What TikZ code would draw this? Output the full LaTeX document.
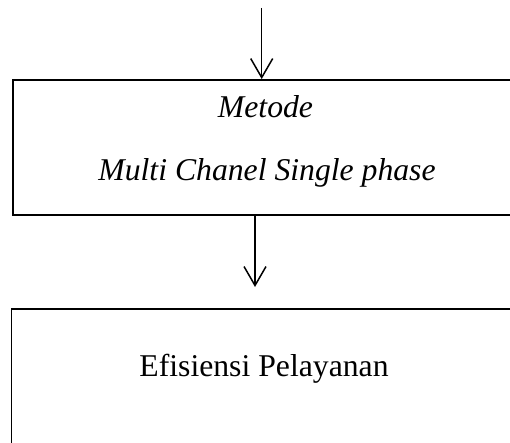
\documentclass[tikz,border=0pt]{standalone}
\usepackage{fontspec}
\setmainfont{Liberation Serif}
\usetikzlibrary{arrows.meta}

\tikzset{
  box/.style={draw, line width=1.9pt, inner sep=0pt, minimum width=#1},
  label/.style={anchor=base, inner sep=0pt, font=\fontsize{31.7}{38}\selectfont},
  flow/.style={line width=1.5pt, -{Straight Barb[length=19pt,width=22pt,line width=1.5pt]}}
}

\begin{document}
\begin{tikzpicture}[x=1pt, y=-1pt]
  \useasboundingbox (0,0) rectangle (510,443);
  \clip (0,0) rectangle (510,443);

  % method box and its two italic lines
  \node[box=504pt, minimum height=135pt] (metode) at (265,147.5) {};
  \node[label] (t1) at (265.5,118) {\itshape Metode};
  \node[label] (t2) at (267,181) {\itshape Multi Chanel Single phase};

  % result box (continues past the lower edge)
  \node[box=505pt, minimum height=160pt] (hasil) at (264,389) {};
  \node[label] (t3) at (264,376) {Efisiensi Pelayanan};

  % connectors
  \coordinate (in) at (261.7,8);
  \coordinate (mid) at (255,287);
  \draw[flow] (in) -- (in |- metode.north);
  \draw[flow] (metode.south -| mid) -- (mid);
\end{tikzpicture}
\end{document}
